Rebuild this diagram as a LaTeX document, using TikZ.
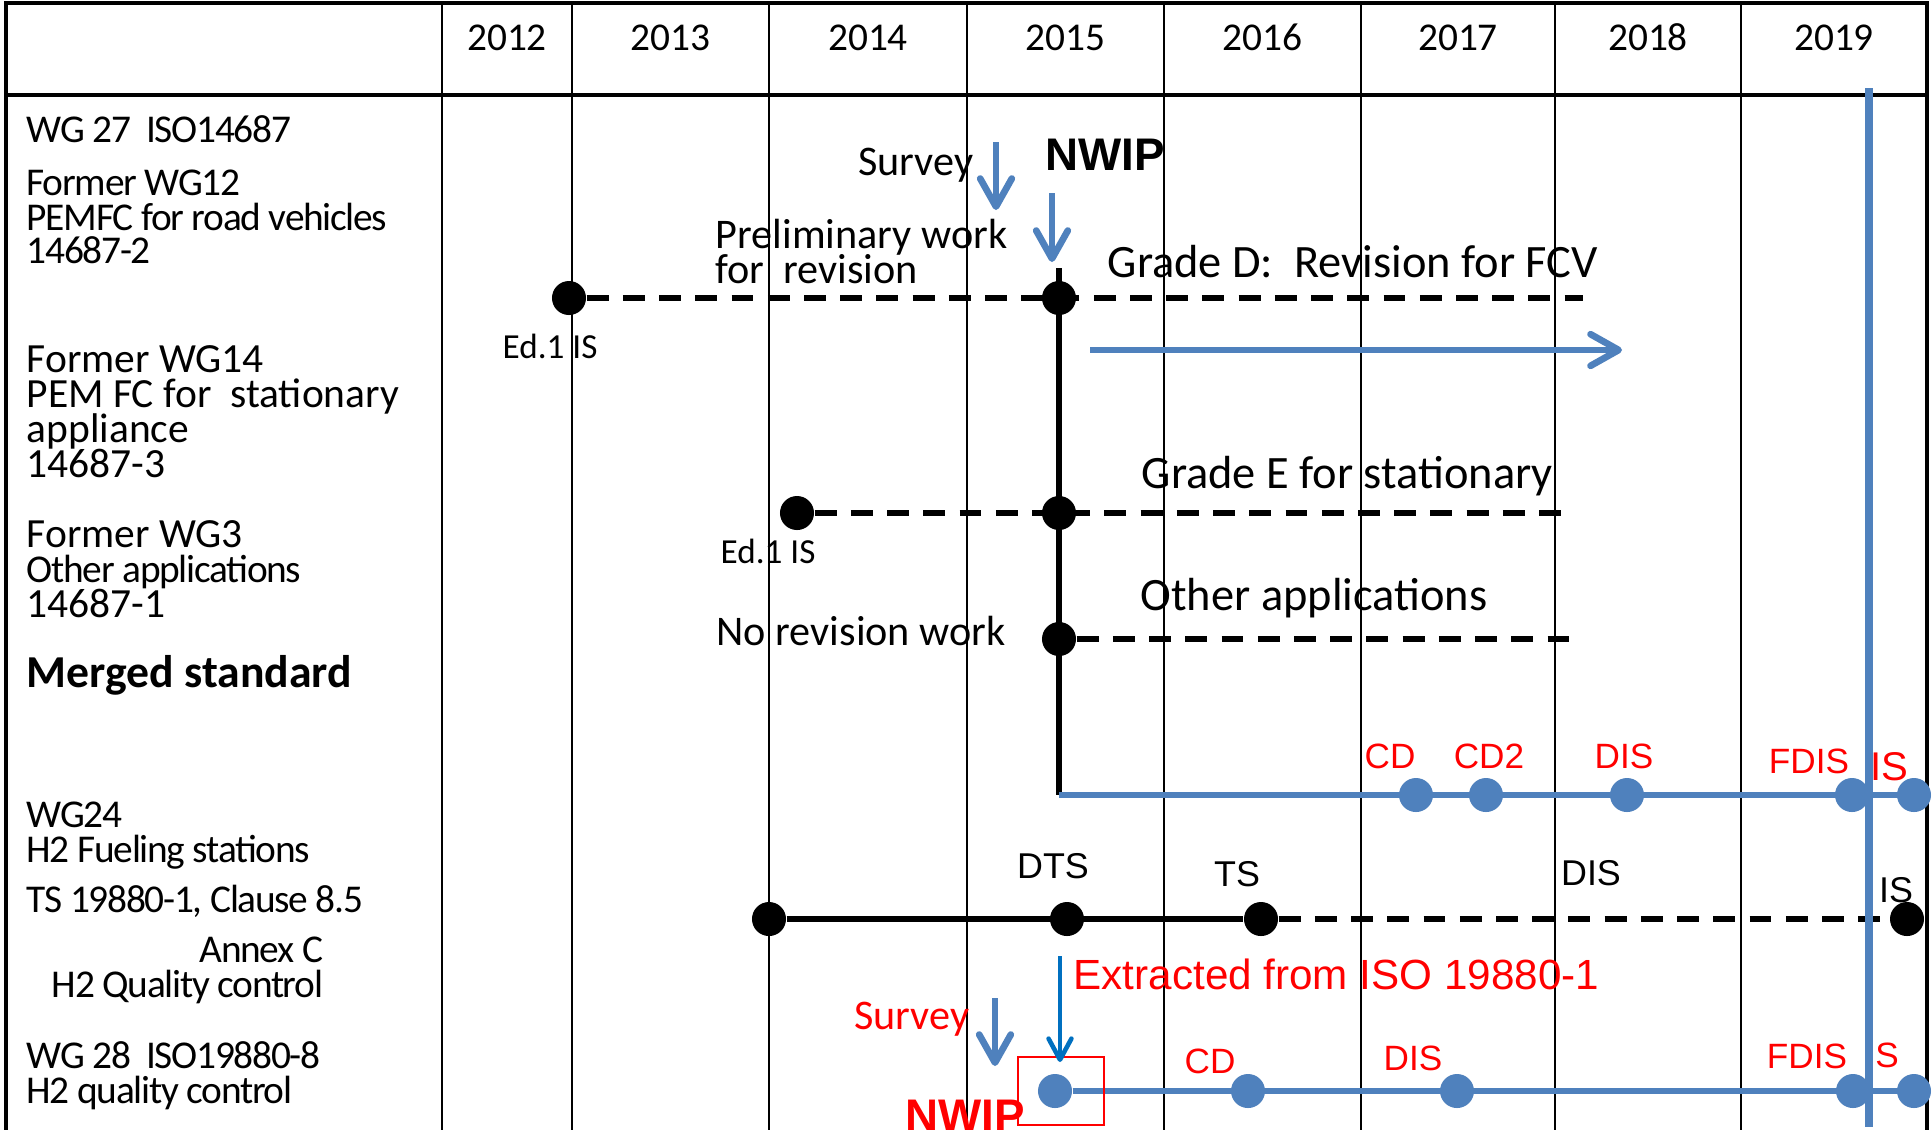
\documentclass[tikz,border=0pt]{standalone}
\usepackage{fontspec}
\setmainfont{Carlito}
\newfontfamily\arialfont{Liberation Sans}
\newfontfamily\tightfont[LetterSpace=-3.3]{Carlito}
\usetikzlibrary{arrows.meta}
\definecolor{pptblue}{HTML}{4F81BD}
\definecolor{darkblue}{HTML}{0070C0}
\definecolor{pptred}{HTML}{FF0000}

\begin{document}
\begin{tikzpicture}[x=0.01cm, y=-0.01cm,
	every node/.style={inner sep=0pt},
	grid/.style={line width=0.7pt},
	frame/.style={line width=1pt},
	yearlab/.style={anchor=base, font=\fontsize{11.2}{12}\selectfont},
	rowlab/.style={anchor=base west, font=\fontsize{11.8}{12}\selectfont},
	rowlabc/.style={anchor=base west, font=\tightfont\fontsize{11.2}{12}\selectfont},
	note/.style={anchor=base west, font=\fontsize{12}{14}\selectfont},
	grade/.style={anchor=base west, font=\fontsize{13.2}{15}\selectfont},
	edlab/.style={anchor=base west, font=\fontsize{10}{12}\selectfont},
	stage/.style={anchor=base, font=\arialfont\fontsize{10.2}{12}\selectfont},
	rstage/.style={anchor=base, text=pptred, font=\arialfont\fontsize{10}{12}\selectfont},
	bdot/.style={circle, fill=black, minimum size=0.34cm},
	udot/.style={circle, fill=pptblue, minimum size=0.34cm},
	dashline/.style={line width=1.7pt, dash pattern=on 6.2pt off 4.1pt},
	solidline/.style={line width=1.6pt},
	blueline/.style={pptblue, line width=1.6pt},
	barrow/.style={pptblue, line width=1.9pt, -{Straight Barb[round, length=8pt, width=9pt]}},
]
\useasboundingbox (0,0) rectangle (1932,1129);
\fill[white] (0,0) rectangle (1932,1129);

% table
\draw[frame] (6,3) rectangle (1927,1140);
\draw[frame] (6,95) -- (1927,95);
\foreach \xl in {442,572,769,967,1164,1361,1555,1741}
	\draw[grid] (\xl,3) -- (\xl,1140);
\foreach \xa/\xb/\yr in {442/572/2012, 572/769/2013, 769/967/2014, 967/1164/2015, 1164/1361/2016, 1361/1555/2017, 1555/1741/2018, 1741/1927/2019}
	\node[yearlab] (yr\yr) at ({(\xa+\xb)/2},50) {\yr};

% working groups
\foreach \yb/\txt in {142/{WG 27\ \ ISO14687}, 195/{Former WG12}, 230/{PEMFC for road vehicles}, 263/{14687-2}, 582/{Other applications}, 827/{WG24}, 862/{H2 Fueling stations}, 912/{TS 19880-1, Clause 8.5}, 1068/{WG 28\ \ ISO19880-8}, 1103/{H2 quality control}}
	\node[rowlabc] (wg\yb) at (26,\yb) {\txt};
\foreach \yb/\txt in {372/{Former WG14}, 407/{PEM FC for\ \ stationary}, 442/{appliance}, 477/{14687-3}, 547/{Former WG3}, 617/{14687-1}}
	\node[rowlab] (wg\yb) at (26,\yb) {\txt};
\node[rowlabc, anchor=base east] (annex) at (324,962) {Annex C};
\node[rowlabc, anchor=base east] (annexqc) at (324,997) {H2 Quality control};
\node[anchor=base west, font=\bfseries\fontsize{13}{15}\selectfont] (merged) at (26,687) {Merged standard};

% ISO 14687 parts
\node[bdot] (ed1a) at (569,298) {};
\node[bdot] (revD) at (1059,298) {};
\coordinate (revDend) at (1583,298);
\node[bdot] (ed1b) at (797,513) {};
\node[bdot] (revE) at (1059,513) {};
\coordinate (revEend) at (1575,513);
\node[bdot] (revO) at (1059,639) {};
\coordinate (revOend) at (1579,639);
\coordinate (mergeTop) at (1059,268);
\coordinate (mergeCorner) at (1059,795);
\coordinate (mergeEnd) at (1928,795);

\draw[dashline] (ed1a) -- (revDend);
\draw[dashline] (ed1b) -- (revEend);
\draw[dashline] (revO) -- (revOend);
\draw[solidline] (mergeTop) -- (mergeCorner);
\draw[blueline] (mergeCorner) -- (mergeEnd);
\foreach \xd/\nm in {1416/cd, 1486/cdtwo, 1627/dis, 1852/fdis, 1914/is}
	\node[udot] (m\nm) at (\xd,795) {};

\node[edlab] (ed1alab) at (502,358) {Ed.1 IS};
\node[edlab] (ed1blab) at (720,563) {Ed.1 IS};
\node[note, anchor=base east] (survey) at (974,175) {Survey};
\node[anchor=base west, font=\arialfont\bfseries\fontsize{13}{15}\selectfont] (nwip) at (1045,170) {NWIP};
\node[note] (prelim) at (715,248) {Preliminary work};
\node[note] (prelimb) at (715,283) {for\ \ revision};
\node[note] (norev) at (716,645) {No revision work};
\node[grade] (gradeD) at (1107,277) {Grade D:\ \ Revision for FCV};
\node[grade] (gradeE) at (1141,488) {Grade E for stationary};
\node[grade] (other) at (1140,610) {Other applications};

\coordinate (svA) at (996,142);
\coordinate (svB) at (996,210);
\draw[barrow] (svA) -- (svB);
\coordinate (nwA) at (1052,193);
\coordinate (nwB) at (1052,262);
\draw[barrow] (nwA) -- (nwB);
\coordinate (fcvA) at (1090,350);
\coordinate (fcvB) at (1622,350);
\draw[barrow] (fcvA) -- (fcvB);

\node[rstage] (lcd) at (1390,768) {CD};
\node[rstage] (lcdtwo) at (1489,768) {CD2};
\node[rstage] (ldis) at (1624,768) {DIS};
\node[rstage] (lfdis) at (1809,773) {FDIS};
\node[rstage, font=\arialfont\fontsize{11.4}{13}\selectfont] (lis) at (1889,780) {IS};

% ISO 19880-1
\node[bdot] (fs0) at (769,919) {};
\node[bdot] (fsdts) at (1067,919) {};
\node[bdot] (fsts) at (1261,919) {};
\node[bdot] (fsis) at (1907,919) {};
\draw[solidline] (fs0) -- (fsts);
\draw[dashline] (fsts) -- (fsis);
\node[stage] (ldts) at (1053,878) {DTS};
\node[stage] (lts) at (1237,886) {TS};
\node[stage] (lfsdis) at (1591,885) {DIS};
\node[stage] (lfsis) at (1896,902) {IS};

% ISO 19880-8
\node[udot] (qc0) at (1055,1091) {};
\node[udot] (qccd) at (1248,1091) {};
\node[udot] (qcdis) at (1457,1091) {};
\node[udot] (qcfdis) at (1853,1091) {};
\node[udot] (qcis) at (1914,1091) {};
\coordinate (qcend) at (1928,1091);
\draw[blueline] (qc0) -- (qcend);
\node[draw=pptred, line width=0.45pt, minimum width=0.86cm, minimum height=0.68cm] (nwipbox) at (1061,1091) {};

\node[rstage] (lqccd) at (1210,1073) {CD};
\node[rstage] (lqcdis) at (1413,1070) {DIS};
\node[rstage] (lqcfdis) at (1807,1068) {FDIS};
\node[rstage] (lqcis) at (1887,1067) {S};

\coordinate (exA) at (1060,956);
\coordinate (exB) at (1060,1062);
\draw[darkblue, line width=1.3pt, -{Straight Barb[round, length=6pt, width=6.5pt]}] (exA) -- (exB);
\node[anchor=base west, text=pptred, font=\arialfont\fontsize{12}{14}\selectfont] (extracted) at (1073,989) {Extracted from ISO 19880-1};
\coordinate (sv2A) at (995,998);
\coordinate (sv2B) at (995,1066);
\draw[barrow] (sv2A) -- (sv2B);
\node[note, anchor=base east, text=pptred] (survey2) at (970,1029) {Survey};
\node[anchor=base west, text=pptred, font=\arialfont\bfseries\fontsize{13}{15}\selectfont] (nwip2) at (905,1131) {NWIP};

% current date
\coordinate (nowTop) at (1869,88);
\coordinate (nowBot) at (1869,1127);
\draw[pptblue, line width=2pt] (nowTop) -- (nowBot);
\end{tikzpicture}
\end{document}
